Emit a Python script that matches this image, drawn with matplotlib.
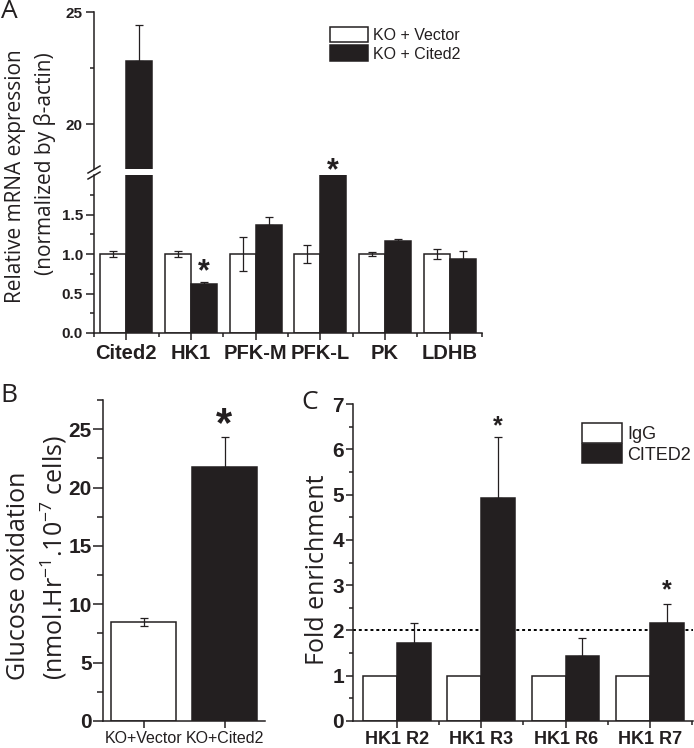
import numpy as np
import matplotlib.pyplot as plt
from matplotlib.lines import Line2D

# ---- data ----
genes = ['Cited2', 'HK1', 'PFK-M', 'PFK-L', 'PK', 'LDHB']
vec_mean = [1.0, 1.0, 1.0, 1.0, 1.0, 1.0]
vec_err = [0.04, 0.04, 0.21, 0.11, 0.03, 0.06]
cit_mean = [22.8, 0.62, 1.37, 2.0, 1.16, 0.94]
cit_err = [1.6, 0.02, 0.10, 0.0, 0.03, 0.10]
stars_A = [(1, 0.67), (3, 1.94)]          # (group, y of star baseline)

glu_groups = ['KO+Vector', 'KO+Cited2']
glu_mean = [8.45, 21.75]
glu_err = [0.35, 2.6]
stars_B = [(1, 24.4)]

regions = ['HK1 R2', 'HK1 R3', 'HK1 R6', 'HK1 R7']
igg_mean = [1.0, 1.0, 1.0, 1.0]
chip_mean = [1.72, 4.92, 1.43, 2.16]
chip_err = [0.44, 1.35, 0.40, 0.42]
threshold = 2.0
stars_C = [(1, 6.36), (3, 2.74)]

DARK = '#231f20'
W, H = 694, 748
plt.rcParams['font.family'] = ['Liberation Sans', 'DejaVu Sans']
plt.rcParams['mathtext.default'] = 'regular'
LABEL_FONT = ['Open Sans', 'DejaVu Sans']

fig = plt.figure(figsize=(W / 100, H / 100), dpi=100)


def rect(x0, y0, x1, y1):
    return [x0 / W, 1 - y1 / H, (x1 - x0) / W, (y1 - y0) / H]


def style(ax, tsize, yt, ym, fmt, ylen=(6, 3), xlen=(5, 3), ypad=2, xpad=3):
    for s in ['top', 'right']:
        ax.spines[s].set_visible(False)
    for s in ['left', 'bottom']:
        ax.spines[s].set_linewidth(1.1)
        ax.spines[s].set_color(DARK)
    ax.set_yticks(yt)
    ax.set_yticks(ym, minor=True)
    ax.set_yticklabels([fmt % v for v in yt], fontsize=tsize, fontweight='bold', color=DARK)
    ax.tick_params(axis='y', which='major', direction='out', length=ylen[0], width=1.1,
                   color=DARK, pad=ypad)
    ax.tick_params(axis='y', which='minor', direction='out', length=ylen[1], width=1.1, color=DARK)
    ax.tick_params(axis='x', which='major', direction='out', length=xlen[0], width=1.1,
                   color=DARK, pad=xpad, labelcolor=DARK)
    ax.tick_params(axis='x', which='minor', direction='out', length=xlen[1], width=1.1, color=DARK)


def stars(ax, pts, size, dx=0.0):
    for gx, gy in pts:
        ax.text(gx + dx, gy, '*', ha='center', va='baseline', fontsize=size,
                fontweight='bold', color=DARK, clip_on=False)


# ---------------- Panel A (broken axis) ----------------
x = np.arange(len(genes))
bw = 0.4
axT = fig.add_axes(rect(94, 12, 482, 169))
axA = fig.add_axes(rect(94, 175, 482, 333))
for ax in (axT, axA):
    ax.bar(x - 0.2, vec_mean, bw, color='white', edgecolor=DARK, linewidth=1.1, zorder=2)
    ax.bar(x + 0.2, cit_mean, bw, color=DARK, edgecolor=DARK, linewidth=1.1, zorder=2)
    ax.errorbar(x - 0.2, vec_mean, yerr=vec_err, fmt='none', ecolor=DARK, elinewidth=0.9,
                capsize=3, capthick=0.9, zorder=3)
    ax.errorbar(x + 0.2, cit_mean, yerr=[np.zeros(len(x)), cit_err], fmt='none', ecolor=DARK,
                elinewidth=0.9, capsize=3, capthick=0.9, zorder=3)
    ax.set_xlim(-0.5, 5.5)

axT.set_ylim(18, 25)
axT.spines['bottom'].set_visible(False)
axT.set_xticks([])
style(axT, 11, [20, 25], [22.5], '%d')

axA.set_ylim(0, 2.0)
axA.set_xticks(x)
axA.set_xticks(np.arange(-0.5, 5.6, 1.0), minor=True)
axA.set_xticklabels(genes, fontsize=14.5, fontweight='bold')
style(axA, 11, [0, 0.5, 1.0, 1.5], [0.25, 0.75, 1.25, 1.75], '%.1f')
stars(axA, stars_A, 22, dx=0.2)

# break marks on the y axis
for yc in (169.5, 175.5):
    fig.add_artist(Line2D([88 / W, 100 / W], [1 - (yc + 3.5) / H, 1 - (yc - 3.5) / H],
                          color=DARK, lw=1.1, transform=fig.transFigure))

axT.legend(handles=[plt.Rectangle((0, 0), 1, 1, fc='white', ec=DARK, lw=1.1),
                    plt.Rectangle((0, 0), 1, 1, fc=DARK, ec=DARK, lw=1.1)],
           labels=['KO + Vector', 'KO + Cited2'], loc='upper left',
           bbox_to_anchor=(330 / W, 1 - 27 / H), bbox_transform=fig.transFigure,
           frameon=False, fontsize=11.5, handlelength=2.4, handleheight=1.1,
           labelspacing=0.15, handletextpad=0.3, borderpad=0, borderaxespad=0,
           labelcolor=DARK)

fig.text(16 / W, 1 - 176 / H, 'Relative mRNA expression', rotation=90, ha='center',
         va='center', fontsize=15, family=LABEL_FONT, color=DARK)
fig.text(45 / W, 1 - 164 / H, '(normalized by β-actin)', rotation=90, ha='center',
         va='center', fontsize=15, family=LABEL_FONT, color=DARK)
fig.text(9 / W, 1 - 12 / H, 'A', ha='center', va='center', fontsize=19,
         family=LABEL_FONT, color=DARK)

# ---------------- Panel B ----------------
axB = fig.add_axes(rect(103, 400, 265, 721))
xb = np.arange(len(glu_groups))
axB.bar(xb, glu_mean, 0.8, color=['white', DARK], edgecolor=DARK, linewidth=1.1, zorder=2)
axB.errorbar(xb, glu_mean, yerr=[[glu_err[0], 0], glu_err], fmt='none', ecolor=DARK,
             elinewidth=0.9, capsize=3, capthick=0.9, zorder=3)
axB.set_xlim(-0.5, 1.5)
axB.set_ylim(0, 27.5)
axB.set_xticks(xb)
axB.set_xticklabels(glu_groups, fontsize=11.5)
style(axB, 15, [0, 5, 10, 15, 20, 25], [2.5, 7.5, 12.5, 17.5, 22.5, 27.5], '%d',
      ylen=(7, 4), ypad=1, xpad=2)
stars(axB, stars_B, 30)

fig.text(19 / W, 1 - 576 / H, 'Glucose oxidation', rotation=90, ha='center',
         va='center', fontsize=18, family=LABEL_FONT, color=DARK)
fig.text(54 / W, 1 - 558 / H, '(nmol.Hr$^{-1}$.10$^{-7}$ cells)', rotation=90,
         ha='center', va='center', fontsize=18, family=LABEL_FONT, color=DARK)
fig.text(9 / W, 1 - 395 / H, 'B', ha='center', va='center', fontsize=19,
         family=LABEL_FONT, color=DARK)

# ---------------- Panel C ----------------
axC = fig.add_axes(rect(353, 404, 693, 721))
xc = np.arange(len(regions))
axC.bar(xc - 0.2, igg_mean, bw, color='white', edgecolor=DARK, linewidth=1.1, zorder=2)
axC.bar(xc + 0.2, chip_mean, bw, color=DARK, edgecolor=DARK, linewidth=1.1, zorder=2)
axC.errorbar(xc + 0.2, chip_mean, yerr=[np.zeros(len(xc)), chip_err], fmt='none',
             ecolor=DARK, elinewidth=0.9, capsize=3, capthick=0.9, zorder=3)
axC.axhline(threshold, color='black', lw=1.4, ls=(0, (1.5, 1.5)), zorder=1)
axC.set_xlim(-0.52, 3.51)
axC.set_ylim(0, 7)
axC.set_xticks(xc)
axC.set_xticks(np.arange(0.5, 3.6, 1.0), minor=True)
axC.set_xticklabels(regions, fontsize=13, fontweight='bold')
style(axC, 15, list(range(8)), list(np.arange(0.5, 7.0, 1.0)), '%d',
      ylen=(5, 3), ypad=1.5, xpad=2)
stars(axC, stars_C, 18, dx=0.2)

axC.legend(handles=[plt.Rectangle((0, 0), 1, 1, fc='white', ec=DARK, lw=1.1),
                    plt.Rectangle((0, 0), 1, 1, fc=DARK, ec=DARK, lw=1.1)],
           labels=['IgG', 'CITED2'], loc='upper left',
           bbox_to_anchor=(582 / W, 1 - 423 / H), bbox_transform=fig.transFigure,
           frameon=False, fontsize=13, handlelength=2.2, handleheight=1.3,
           labelspacing=0.05, handletextpad=0.3, borderpad=0, borderaxespad=0,
           labelcolor=DARK)

fig.text(318 / W, 1 - 570 / H, 'Fold enrichment', rotation=90, ha='center',
         va='center', fontsize=18, family=LABEL_FONT, color=DARK)
fig.text(310 / W, 1 - 402 / H, 'C', ha='center', va='center', fontsize=19,
         family=LABEL_FONT, color=DARK)

fig.savefig('out.png', dpi=100)
